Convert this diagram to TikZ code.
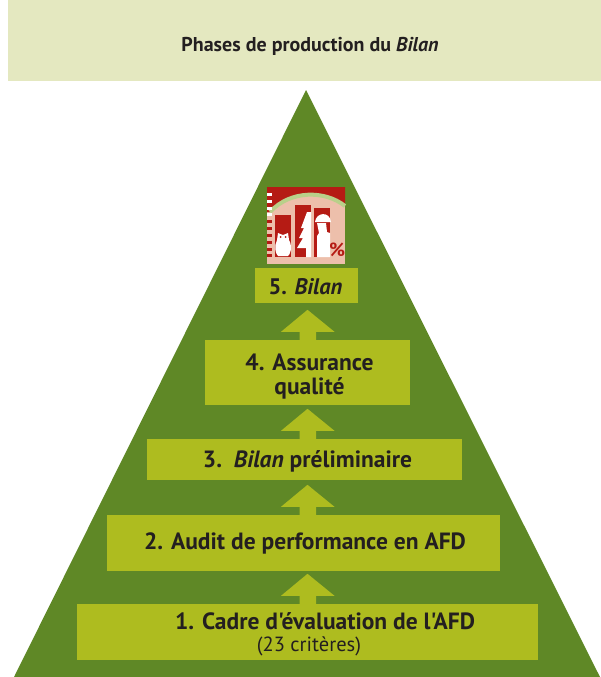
\documentclass[tikz,border=0pt]{standalone}
\usepackage{fontspec}
\newfontfamily\ptf{PT Sans}
\usetikzlibrary{calc}
\definecolor{hdr}{HTML}{E4E8C0}
\definecolor{pyr}{HTML}{5F8826}
\definecolor{box}{HTML}{AEBC1F}
\definecolor{ink}{HTML}{231F20}
\definecolor{iconbg}{HTML}{EDBFAB}
\definecolor{iconred}{HTML}{B51B14}
\definecolor{iconarc}{HTML}{B9D08A}
\tikzset{
  phase/.style={fill=box,inner sep=0pt},
  phasetext/.style={text=ink,inner sep=0pt,align=center,font=\bfseries\fontsize{23.5}{24}\selectfont},
  blockarrow/.style={fill=box,draw=none},
}
% block arrow rising from the top edge of lower node #1 towards upper node #2
\newcommand{\phasearrow}[2]{%
  \path (#1.north) ++(0,0) coordinate (#1foot);
  \fill[blockarrow] (299.5,0 |- #1foot) -- ($(299.5,0 |- #1foot)+(0,-8)$) -- ($(281,0 |- #1foot)+(0,-8)$)
    -- ($(307.5,0 |- #1foot)+(0,-30)$) -- ($(334.5,0 |- #1foot)+(0,-8)$) -- ($(316,0 |- #1foot)+(0,-8)$) -- (316,0 |- #1foot) -- cycle;}
\begin{document}
\begin{tikzpicture}[x=1pt,y=-1pt]
\ptf
\useasboundingbox (0,0) rectangle (601,677);
\fill[white] (0,0) rectangle (601,677);
\node[fill=hdr,minimum width=593pt,minimum height=81pt,inner sep=0pt] (title) at (304.5,40.5) {};
\node[text=ink,inner sep=0pt,font=\bfseries\fontsize{20}{23}\selectfont] (titletext) at (310,46) {Phases de production du \textit{Bilan}};
\coordinate (apex) at (306,90);
\coordinate (bl) at (14,677);
\coordinate (br) at (600,677);
\fill[pyr] (apex) -- (br) -- (bl) -- cycle;
\node[phase,minimum width=461pt,minimum height=56pt] (p1) at (307.5,632) {};
\node[phase,minimum width=393pt,minimum height=56pt] (p2) at (303.5,543) {};
\node[phase,minimum width=315pt,minimum height=41pt] (p3) at (304.5,459.5) {};
\node[phase,minimum width=205pt,minimum height=65pt] (p4) at (307.5,372.5) {};
\node[phase,minimum width=103pt,minimum height=35pt] (p5) at (306.5,285.5) {};
\node[phasetext] (p1a) at (325,621) {1. Cadre d'évaluation de l'AFD};
\node[text=ink,inner sep=0pt,font=\fontsize{20.5}{23}\selectfont] (p1b) at (309,646) {(23 critères)};
\node[phasetext] (t2) at (305,543) {2. Audit de performance en AFD};
\node[phasetext] (t3) at (307.5,461) {3.\ \ \textit{Bilan} préliminaire};
\node[phasetext] (t4) at (309.5,376.5) {4. Assurance\\qualité};
\node[phasetext,font=\bfseries\fontsize{22.5}{24}\selectfont] (t5) at (305.5,287) {5. \textit{Bilan}};
\phasearrow{p1}{p2}
\phasearrow{p2}{p3}
\phasearrow{p3}{p4}
\phasearrow{p4}{p5}
% icon
\fill[iconbg] (267,187) rectangle (345,264);
\fill[iconred] (267,187) -- (345,187) -- (345,206) .. controls (325,190) and (290,190) .. (270,212) -- (267,212) -- cycle;
\draw[iconarc,line width=4pt] (270,212) .. controls (290,190) and (325,190) .. (345,206);
\foreach \y in {193,200,207,213}{\fill[white] (267,\y) rectangle (272,\y+3);}
\foreach \y in {220,227,234,241,247.5,254}{\fill[iconred] (267,\y) rectangle (272,\y+3);}
\fill[iconred] (275,215) rectangle (291,257);
\fill[iconred] (295,205) rectangle (311,257);
\fill[iconred] (314,208) rectangle (330,257);
% owl
\fill[white] (278,233) -- (283,235) -- (288,233) -- (289,240) .. controls (293,247) and (290,255) .. (288,256) -- (278,256) .. controls (275,253) and (274,246) .. (277,240) -- cycle;
\fill[iconred] (280.5,237) circle (1) (285.5,237) circle (1);
% tree
\fill[white] (307,212) -- (311,212) -- (311,257) -- (306,257) -- (306,248) -- (297,248) -- (303,238) -- (299,238) -- (304,228) -- (301,228) -- cycle;
% worker
\fill[white] (315,222) .. controls (316,212) and (330,211) .. (331,222) -- cycle;
\fill[white] (317,223) -- (326,223) -- (327,232) -- (330,233) -- (330,257) -- (317,257) -- (317,236) -- (319,233) -- cycle;
\node[text=iconred,inner sep=0pt,font=\bfseries\fontsize{19}{19}\selectfont] (pct) at (337,250) {\%};
\end{tikzpicture}
\end{document}
